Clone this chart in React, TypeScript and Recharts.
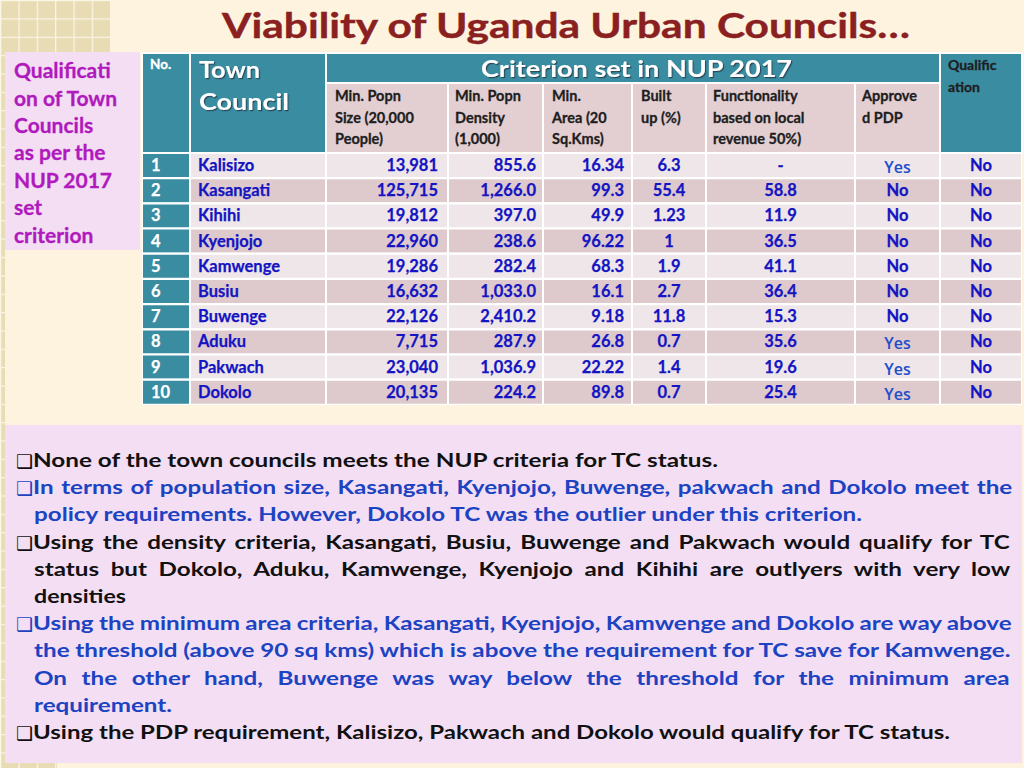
import React from 'react';
import { BarChart, Bar, XAxis, YAxis, Cell, LabelList } from 'recharts';

// ---------------- data ----------------
const ROW_NO = [1, 2, 3, 4, 5, 6, 7, 8, 9, 10];
const TOWNS = ['Kalisizo', 'Kasangati', 'Kihihi', 'Kyenjojo', 'Kamwenge', 'Busiu', 'Buwenge', 'Aduku', 'Pakwach', 'Dokolo'];
const MIN_POP_SIZE = [13981, 125715, 19812, 22960, 19286, 16632, 22126, 7715, 23040, 20135];
const MIN_POP_DENSITY = [855.6, 1266.0, 397.0, 238.6, 282.4, 1033.0, 2410.2, 287.9, 1036.9, 224.2];
const MIN_AREA = [16.34, 99.3, 49.9, 96.22, 68.3, 16.1, 9.18, 26.8, 22.22, 89.8];
const BUILT_UP = [6.3, 55.4, 1.23, 1, 1.9, 2.7, 11.8, 0.7, 1.4, 0.7];
const FUNCTIONALITY: (number | null)[] = [null, 58.8, 11.9, 36.5, 41.1, 36.4, 15.3, 35.6, 19.6, 25.4];
const APPROVED_PDP = ['Yes', 'No', 'No', 'No', 'No', 'No', 'No', 'Yes', 'Yes', 'Yes'];
const QUALIFICATION = ['No', 'No', 'No', 'No', 'No', 'No', 'No', 'No', 'No', 'No'];

const TITLE = 'Viability of Uganda Urban Councils…';
const SIDE_NOTE = ['Qualificati', 'on of Town', 'Councils', 'as per the', 'NUP 2017', 'set', 'criterion'];
const HEAD_NO = 'No.';
const HEAD_TOWN = ['Town', 'Council'];
const HEAD_CRITERION = 'Criterion set in NUP 2017';
const HEAD_SUB = [
  ['Min. Popn', 'Size (20,000', 'People)'],
  ['Min. Popn', 'Density', '(1,000)'],
  ['Min.', 'Area (20', 'Sq.Kms)'],
  ['Built', 'up (%)'],
  ['Functionality', 'based on local', 'revenue 50%)'],
  ['Approve', 'd PDP'],
];
const HEAD_QUAL = ['Qualific', 'ation'];

const NOTES = [
  { text: 'None of the town councils meets the NUP criteria for TC status.', bullet: true, blue: false, end: 718, justify: false },
  { text: 'In terms of population size, Kasangati, Kyenjojo, Buwenge, pakwach and Dokolo meet the', bullet: true, blue: true, end: 1013, justify: true },
  { text: 'policy requirements. However, Dokolo TC was the outlier under this criterion.', bullet: false, blue: true, end: 862, justify: false },
  { text: 'Using the density criteria, Kasangati, Busiu, Buwenge and Pakwach would qualify for TC', bullet: true, blue: false, end: 1013, justify: true },
  { text: 'status but Dokolo, Aduku, Kamwenge, Kyenjojo and Kihihi are outlyers with very low', bullet: false, blue: false, end: 1013, justify: true },
  { text: 'densities', bullet: false, blue: false, end: 126, justify: false },
  { text: 'Using the minimum area criteria, Kasangati, Kyenjojo, Kamwenge and Dokolo are way above', bullet: true, blue: true, end: 1013, justify: true },
  { text: 'the threshold (above 90 sq kms) which is above the requirement for TC save for Kamwenge.', bullet: false, blue: true, end: 1013, justify: true },
  { text: 'On the other hand, Buwenge was way below the threshold for the minimum area', bullet: false, blue: true, end: 1013, justify: true },
  { text: 'requirement.', bullet: false, blue: true, end: 172, justify: false },
  { text: 'Using the PDP requirement, Kalisizo, Pakwach and Dokolo would qualify for TC status.', bullet: true, blue: false, end: 950, justify: false },
];

// ---------------- layout / style ----------------
const W = 1024;
const H = 768;
const TABLE_X = 142;
const HEAD_Y = 53;
const BAND_H = 30;
const BODY_Y = 153;
const BODY_H = 252;
const COL_WIDTHS = [48, 136, 122, 95, 89, 74, 149, 85, 82];
const COL_X = COL_WIDTHS.reduce<number[]>((acc, w, i) => {
  acc.push(i === 0 ? TABLE_X : acc[i - 1] + COL_WIDTHS[i - 1]);
  return acc;
}, []);
const TABLE_W = COL_WIDTHS.reduce((a, b) => a + b, 0);

const SANS = 'Lato, "Open Sans", sans-serif';
const BG = '#FDF3DF';
const TEAL = '#3A8CA1';
const SUB_FILL = '#E3CED1';
const ROW_LIGHT = '#EEE6E9';
const ROW_DARK = '#DECACD';
const CELL_BLUE = '#1414C2';
const YES_BLUE = '#1F4ECB';
const TITLE_RED = '#8A2020';
const MAGENTA = '#B01ABD';
const NOTE_BLUE = '#1B43C2';
const NOTE_BLACK = '#111111';
const PINK_BOX = '#F3DEF4';

const ALIGN = ['left', 'left', 'right', 'right', 'right', 'center', 'center', 'center', 'center'];
const PAD = [9, 8, 10, 7, 8, 0, 0, 0, 0];
const SUB_PAD = [9, 7, 9, 9, 7, 7];

const fmtInt = (v: number) => v.toLocaleString('en-US');
const fmt1 = (v: number) => v.toLocaleString('en-US', { minimumFractionDigits: 1, maximumFractionDigits: 1 });

const tableRows = TOWNS.map((town, i) => {
  const row: Record<string, string | number> = {
    town,
    c0: String(ROW_NO[i]),
    c1: town,
    c2: fmtInt(MIN_POP_SIZE[i]),
    c3: fmt1(MIN_POP_DENSITY[i]),
    c4: String(MIN_AREA[i]),
    c5: String(BUILT_UP[i]),
    c6: FUNCTIONALITY[i] == null ? '-' : String(FUNCTIONALITY[i]),
    c7: APPROVED_PDP[i],
    c8: QUALIFICATION[i],
  };
  COL_WIDTHS.forEach((w, k) => {
    row[`w${k}`] = w;
  });
  return row;
});

// ---------------- text measuring ----------------
let measureCtx: CanvasRenderingContext2D | null = null;
function textWidth(text: string, font: string): number {
  if (!measureCtx) measureCtx = document.createElement('canvas').getContext('2d');
  if (!measureCtx) return text.length * 10;
  measureCtx.font = font;
  return measureCtx.measureText(text).width;
}

const NOTE_SIZE = 19.5;
const NOTE_FONT = `700 ${NOTE_SIZE}px Lato`;
const NOTE_Y0 = 467;
const NOTE_STEP = 27.2;

function makeLabel(k: number) {
  return (props: any) => {
    const vb = props.viewBox || props;
    const x = Number(vb.x);
    const y = Number(vb.y);
    const w = Number(vb.width);
    const h = Number(vb.height);
    const v = String(props.value ?? '');
    const a = ALIGN[k];
    const tx = a === 'left' ? x + PAD[k] : a === 'right' ? x + w - PAD[k] : x + w / 2;
    const anchor = a === 'left' ? 'start' : a === 'right' ? 'end' : 'middle';
    const isYes = v === 'Yes';
    return (
      <text
        x={tx}
        y={y + h / 2 + (isYes ? 7.5 : 5.5)}
        textAnchor={anchor}
        fill={k === 0 ? '#FFFFFF' : isYes ? YES_BLUE : CELL_BLUE}
        fontFamily={isYes ? '"Open Sans", sans-serif' : SANS}
        fontWeight={isYes ? 600 : 700}
        fontSize={isYes ? 16 : 16.5}
        stroke={isYes ? 'none' : k === 0 ? '#FFFFFF' : CELL_BLUE}
        strokeWidth={isYes ? 0 : 0.25}
      >
        {v}
      </text>
    );
  };
}

function NoteLine({ note, idx, scale }: { note: (typeof NOTES)[number]; idx: number; scale: number }) {
  const y = NOTE_Y0 + idx * NOTE_STEP;
  const x = note.bullet ? 33 : 34;
  const color = note.blue ? NOTE_BLUE : NOTE_BLACK;
  const target = note.end - x;
  const natural = textWidth(note.text, NOTE_FONT);
  const spaces = (note.text.match(/ /g) || []).length;
  let body: React.ReactNode;
  if (note.justify && spaces > 0) {
    const ws = (target / scale - natural) / spaces;
    body = (
      <text
        transform={`translate(${x},${y}) scale(${scale},1)`}
        fontFamily={SANS}
        fontWeight={700}
        fontSize={NOTE_SIZE}
        fill={color}
        style={{ wordSpacing: `${ws}px` }}
      >
        {note.text}
      </text>
    );
  } else {
    body = (
      <text
        x={x}
        y={y}
        fontFamily={SANS}
        fontWeight={700}
        fontSize={NOTE_SIZE}
        fill={color}
        textLength={target}
        lengthAdjust="spacingAndGlyphs"
      >
        {note.text}
      </text>
    );
  }
  return (
    <g>
      {note.bullet && (
        <text x={16} y={y + 1} fontFamily='"DejaVu Sans", sans-serif' fontSize={19} fill={color}>
          ❑
        </text>
      )}
      {body}
    </g>
  );
}

export default function App() {
  const first = NOTES[0];
  const scale = (first.end - 33) / textWidth(first.text, NOTE_FONT);

  return (
    <div style={{ position: 'absolute', left: 0, top: 0, width: W, height: H, background: BG, overflow: 'hidden' }}>
      <svg width={W} height={H} style={{ position: 'absolute', left: 0, top: 0 }}>
        <defs>
          <pattern id="grid" width="18.35" height="18.35" patternUnits="userSpaceOnUse">
            <rect width="18.35" height="18.35" fill="#E7DCB4" />
            <path d="M0 0.5H18.35M0.5 0V18.35" stroke="#FBF5E6" strokeWidth="1.6" />
          </pattern>
          <filter id="shadow" x="-10%" y="-20%" width="130%" height="160%">
            <feDropShadow dx="1.2" dy="1.2" stdDeviation="0.6" floodColor="#203040" floodOpacity="0.75" />
          </filter>
        </defs>

        {/* decorative pattern */}
        <rect x={0} y={0} width={110} height={55} fill="url(#grid)" />
        <rect x={0} y={0} width={5} height={H} fill="url(#grid)" />
        <rect x={0} y={762} width={57} height={6} fill="url(#grid)" />

        {/* title */}
        <text x={222} y={38} fontFamily={SANS} fontWeight={700} fontSize={34} fill={TITLE_RED} stroke={TITLE_RED} strokeWidth={0.4} textLength={688} lengthAdjust="spacingAndGlyphs">
          {TITLE}
        </text>

        {/* left pink note */}
        <rect x={5} y={52} width={135} height={198} fill={PINK_BOX} />
        {SIDE_NOTE.map((t, i) => (
          <text key={t} x={14} y={[78, 106, 133, 160, 188, 215, 243][i]} fontFamily={SANS} fontWeight={700} fontSize={21} fill={MAGENTA} stroke={MAGENTA} strokeWidth={0.3}>
            {t}
          </text>
        ))}

        {/* table header */}
        <rect x={COL_X[0]} y={HEAD_Y} width={COL_WIDTHS[0]} height={BODY_Y - HEAD_Y} fill={TEAL} stroke="#FFFFFF" strokeWidth={2} />
        <rect x={COL_X[1]} y={HEAD_Y} width={COL_WIDTHS[1]} height={BODY_Y - HEAD_Y} fill={TEAL} stroke="#FFFFFF" strokeWidth={2} />
        <rect x={COL_X[2]} y={HEAD_Y} width={COL_X[8] - COL_X[2]} height={BAND_H} fill={TEAL} stroke="#FFFFFF" strokeWidth={2} />
        <rect x={COL_X[8]} y={HEAD_Y} width={COL_WIDTHS[8]} height={BODY_Y - HEAD_Y} fill={TEAL} stroke="#FFFFFF" strokeWidth={2} />
        {HEAD_SUB.map((lines, j) => {
          const k = j + 2;
          return (
            <g key={`sub${j}`}>
              <rect x={COL_X[k]} y={HEAD_Y + BAND_H} width={COL_WIDTHS[k]} height={BODY_Y - HEAD_Y - BAND_H} fill={SUB_FILL} stroke="#FFFFFF" strokeWidth={2} />
              {lines.map((t, li) => (
                <text key={t} x={COL_X[k] + SUB_PAD[j]} y={101 + li * 21.5} fontFamily={SANS} fontWeight={700} fontSize={14.5} fill="#1E1E1E" stroke="#1E1E1E" strokeWidth={0.3}>
                  {t}
                </text>
              ))}
            </g>
          );
        })}
        <text x={COL_X[0] + 8} y={69} fontFamily={SANS} fontWeight={700} fontSize={13.5} fill="#FFFFFF" stroke="#FFFFFF" strokeWidth={0.3}>
          {HEAD_NO}
        </text>
        <text x={COL_X[1] + 9} y={78} fontFamily={SANS} fontWeight={700} fontSize={23} fill="#FFFFFF" filter="url(#shadow)" textLength={61} lengthAdjust="spacingAndGlyphs">
          {HEAD_TOWN[0]}
        </text>
        <text x={COL_X[1] + 9} y={110} fontFamily={SANS} fontWeight={700} fontSize={23} fill="#FFFFFF" filter="url(#shadow)" textLength={90} lengthAdjust="spacingAndGlyphs">
          {HEAD_TOWN[1]}
        </text>
        <text x={481} y={77} fontFamily={SANS} fontWeight={700} fontSize={22} fill="#FFFFFF" filter="url(#shadow)" textLength={311} lengthAdjust="spacingAndGlyphs">
          {HEAD_CRITERION}
        </text>
        {HEAD_QUAL.map((t, i) => (
          <text key={t} x={COL_X[8] + 8} y={70 + i * 22} fontFamily={SANS} fontWeight={700} fontSize={14} fill="#1E1E1E" stroke="#1E1E1E" strokeWidth={0.3}>
            {t}
          </text>
        ))}

        {/* bottom notes box */}
        <rect x={5} y={425} width={1017} height={338} fill={PINK_BOX} />
        {NOTES.map((n, i) => (
          <NoteLine key={i} note={n} idx={i} scale={scale} />
        ))}
      </svg>

      {/* table body drawn by Recharts */}
      <div style={{ position: 'absolute', left: TABLE_X, top: BODY_Y }}>
        <BarChart
          width={TABLE_W}
          height={BODY_H}
          data={tableRows}
          layout="vertical"
          margin={{ top: 0, right: 0, bottom: 0, left: 0 }}
          barCategoryGap={0}
          barGap={0}
        >
          <XAxis type="number" domain={[0, TABLE_W]} hide />
          <YAxis type="category" dataKey="town" hide />
          {COL_WIDTHS.map((_, k) => (
            <Bar key={`col${k}`} dataKey={`w${k}`} stackId="row" isAnimationActive={false} stroke="#FFFFFF" strokeWidth={2}>
              {tableRows.map((r, i) => (
                <Cell key={`cell${k}-${i}`} fill={k === 0 ? TEAL : i % 2 === 0 ? ROW_LIGHT : ROW_DARK} />
              ))}
              <LabelList dataKey={`c${k}`} content={makeLabel(k)} />
            </Bar>
          ))}
        </BarChart>
      </div>
    </div>
  );
}
